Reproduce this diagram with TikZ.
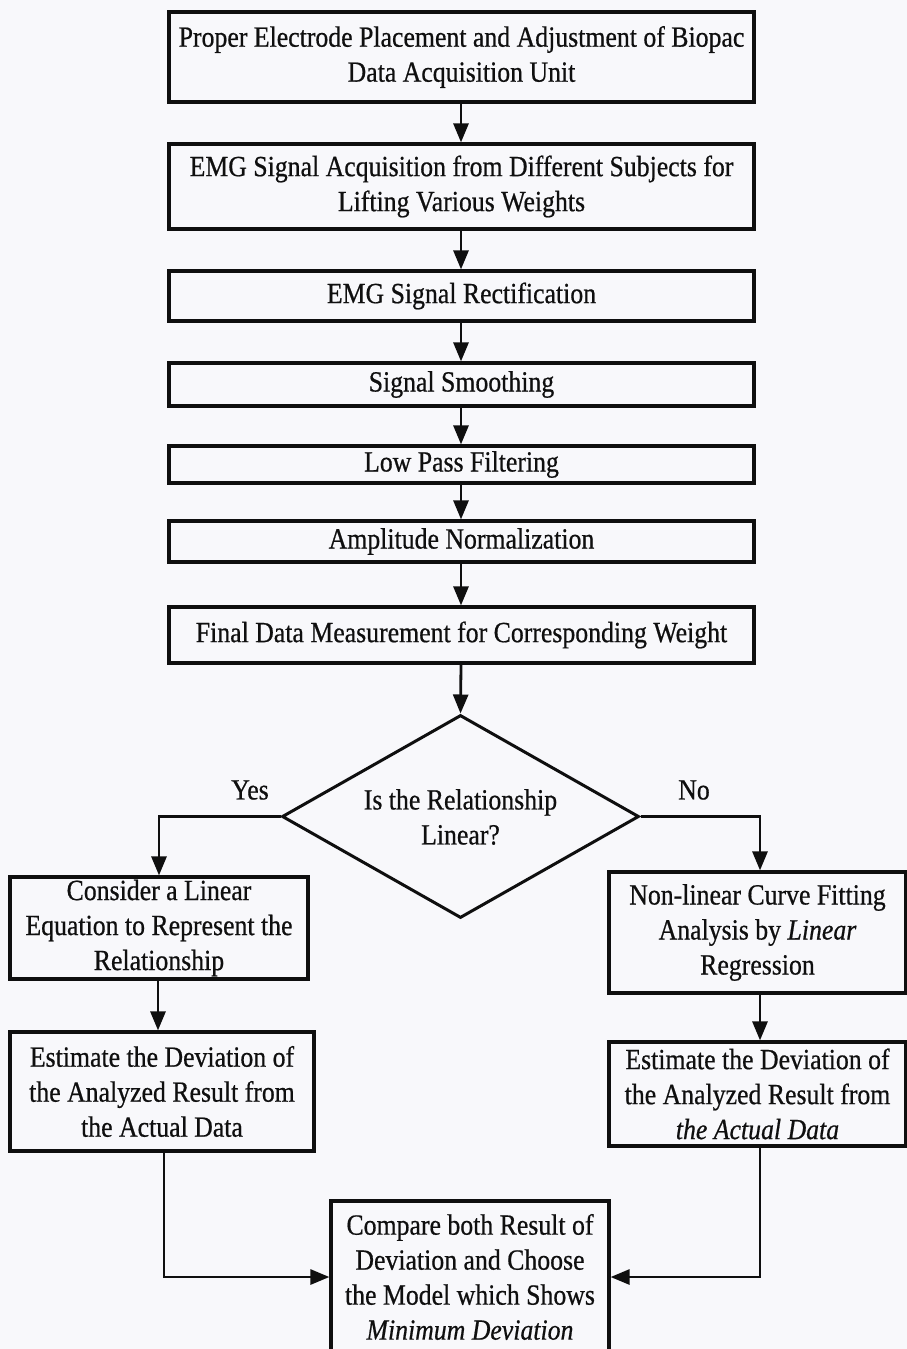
\documentclass[tikz,border=0pt]{standalone}
\usepackage{fontspec}
\setmainfont[FakeStretch=0.88,FakeBold=0.6]{Liberation Serif}
\usetikzlibrary{arrows.meta,shapes.geometric}
\definecolor{paper}{RGB}{248,248,251}
\definecolor{ink}{RGB}{15,15,15}
\begin{document}
\begin{tikzpicture}[x=1pt,y=-1pt,
  txt/.style={font=\fontsize{29.3}{35}\selectfont,text=ink},
  box/.style={txt,draw=ink,line width=3.2pt,rectangle,inner sep=0pt,align=center},
  decision/.style={draw=ink,line width=3pt,diamond,inner sep=0pt},
  flow/.style={draw=ink,line width=2.8pt,-{Triangle[length=19pt,width=15pt]}}]
\useasboundingbox[fill=paper] (0,0) rectangle (907,1349);

% main chain
\node[box,minimum width=585pt,minimum height=90pt] (b1) at (461.5,57)
  {Proper Electrode Placement and Adjustment of Biopac\\Data Acquisition Unit};
\node[box,minimum width=585pt,minimum height=85pt] (b2) at (461.5,186.5)
  {EMG Signal Acquisition from Different Subjects for\\Lifting Various Weights};
\node[box,minimum width=585pt,minimum height=50pt] (b3) at (461.5,296)
  {EMG Signal Rectification};
\node[box,minimum width=585pt,minimum height=43pt] (b4) at (461.5,384.5)
  {Signal Smoothing};
\node[box,minimum width=585pt,minimum height=37pt] (b5) at (461.5,464.5)
  {Low Pass Filtering};
\node[box,minimum width=585pt,minimum height=41pt] (b6) at (461.5,541.5)
  {Amplitude Normalization};
\node[box,minimum width=585pt,minimum height=56pt] (b7) at (461.5,635)
  {Final Data Measurement for Corresponding Weight};

% decision
\node[decision,minimum width=357pt,minimum height=203pt,aspect=1.76] (d) at (460.5,816.5) {};
\node[txt,align=center] (dq) at (460.5,817) {Is the Relationship\\Linear?};
\node[txt] (yes) at (250,790) {Yes};
\node[txt] (no) at (694,790) {No};

% branches
\node[box,minimum width=298pt,minimum height=102pt] (l1) at (159,928)
  {Consider a Linear\\Equation to Represent the\\Relationship};
\node[box,minimum width=297pt,minimum height=121pt] (r1) at (757.5,932.5)
  {Non-linear Curve Fitting\\Analysis by \textit{Linear}\\Regression};
\node[box,minimum width=304pt,minimum height=119pt] (l2) at (162,1091.5)
  {Estimate the Deviation of\\the Analyzed Result from\\the Actual Data};
\node[box,minimum width=297pt,minimum height=104pt] (r2) at (757.5,1094)
  {Estimate the Deviation of\\the Analyzed Result from\\\textit{the Actual Data}};
\node[box,minimum width=278pt,minimum height=152pt] (fin) at (470,1277)
  {Compare both Result of\\Deviation and Choose\\the Model which Shows\\\textit{Minimum Deviation}};

% connectors
\draw[flow] (b1.south -| 461,0) -- (b2.north -| 461,0);
\draw[flow] (b2.south -| 461,0) -- (b3.north -| 461,0);
\draw[flow] (b3.south -| 461,0) -- (b4.north -| 461,0);
\draw[flow] (b4.south -| 461,0) -- (b5.north -| 461,0);
\draw[flow] (b5.south -| 461,0) -- (b6.north -| 461,0);
\draw[flow] (b6.south -| 461,0) -- (b7.north -| 461,0);
\draw[flow] (b7.south -| 461,0) -- (d.north);
\draw[flow] (d.west) -| (l1.north);
\draw[flow] (d.east) -| (r1.north -| 760,0);
\draw[flow] (l1.south -| 158,0) -- (l2.north -| 158,0);
\draw[flow] (r1.south -| 760,0) -- (r2.north -| 760,0);
\draw[flow] (l2.south -| 164,0) |- (fin.west);
\draw[flow] (r2.south -| 760,0) |- (fin.east);
\end{tikzpicture}
\end{document}
